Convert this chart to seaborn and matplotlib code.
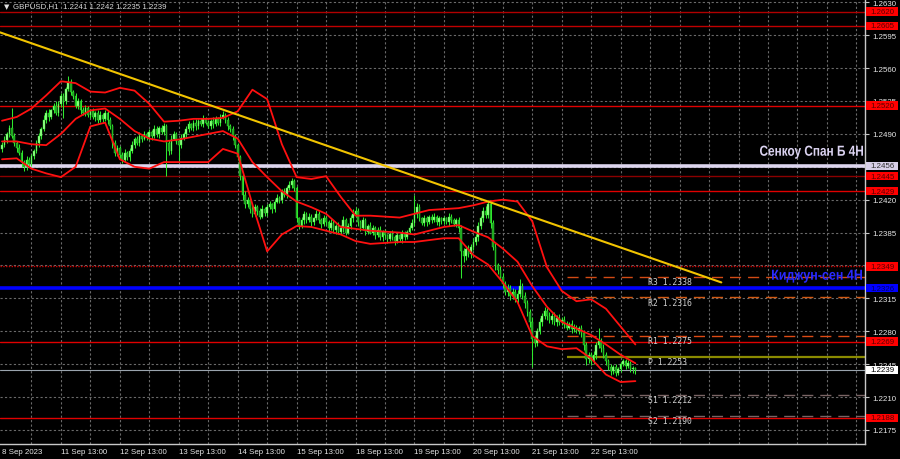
import matplotlib
matplotlib.use('Agg')
import matplotlib.pyplot as plt
import seaborn as sns
import numpy as np
import pandas as pd
from matplotlib.textpath import TextPath
from matplotlib.patches import PathPatch, Rectangle
from matplotlib.font_manager import FontProperties
from matplotlib.transforms import Affine2D

# ---------------- data ----------------
closes = [
    1.2478,1.2484,1.2490,1.2496,1.2488,1.2480,1.2475,1.2470,1.2460,1.2455,1.2462,1.2458,
    1.2466,1.2472,1.2480,1.2488,1.2495,1.2505,1.2512,1.2508,1.2515,1.2520,1.2512,1.2522,
    1.2530,1.2525,1.2538,1.2545,1.2535,1.2530,1.2520,1.2525,1.2515,1.2512,1.2518,1.2510,
    1.2514,1.2508,1.2512,1.2505,1.2510,1.2506,1.2512,1.2505,1.2498,1.2480,1.2470,1.2475,
    1.2468,1.2462,1.2470,1.2465,1.2472,1.2478,1.2485,1.2480,1.2488,1.2485,1.2490,1.2487,
    1.2492,1.2488,1.2495,1.2490,1.2496,1.2492,1.2498,1.2480,1.2472,1.2485,1.2490,1.2482,
    1.2478,1.2486,1.2490,1.2495,1.2500,1.2496,1.2502,1.2498,1.2504,1.2500,1.2506,1.2502,
    1.2498,1.2504,1.2500,1.2506,1.2502,1.2508,1.2510,1.2505,1.2498,1.2495,1.2488,1.2478,
    1.2465,1.2445,1.2425,1.2415,1.2420,1.2410,1.2405,1.2412,1.2408,1.2402,1.2410,1.2406,
    1.2412,1.2415,1.2410,1.2418,1.2422,1.2420,1.2428,1.2425,1.2432,1.2436,1.2440,1.2432,
    1.2400,1.2392,1.2398,1.2405,1.2398,1.2402,1.2396,1.2400,1.2405,1.2398,1.2394,1.2400,
    1.2396,1.2390,1.2395,1.2388,1.2392,1.2386,1.2390,1.2398,1.2385,1.2392,1.2400,1.2405,
    1.2408,1.2396,1.2390,1.2398,1.2386,1.2392,1.2385,1.2390,1.2382,1.2388,1.2380,1.2386,
    1.2382,1.2378,1.2384,1.2380,1.2376,1.2382,1.2378,1.2384,1.2380,1.2386,1.2390,1.2395,
    1.2405,1.2412,1.2400,1.2395,1.2400,1.2396,1.2402,1.2398,1.2402,1.2396,1.2400,1.2397,
    1.2400,1.2396,1.2402,1.2398,1.2394,1.2398,1.2390,1.2365,1.2360,1.2368,1.2362,1.2370,
    1.2375,1.2380,1.2392,1.2400,1.2408,1.2404,1.2415,1.2395,1.2370,1.2350,1.2345,1.2338,
    1.2330,1.2322,1.2326,1.2318,1.2322,1.2314,1.2320,1.2328,1.2318,1.2310,1.2300,1.2290,
    1.2272,1.2268,1.2280,1.2290,1.2296,1.2302,1.2296,1.2292,1.2296,1.2290,1.2294,1.2290,
    1.2292,1.2288,1.2284,1.2288,1.2282,1.2285,1.2280,1.2283,1.2278,1.2265,1.2250,1.2255,
    1.2248,1.2255,1.2265,1.2270,1.2262,1.2255,1.2248,1.2242,1.2238,1.2242,1.2236,1.2240,
    1.2245,1.2248,1.2243,1.2246,1.2240,1.2241,1.2239,
]
first_open = 1.2474

wick_up = [
    3,4,2,3,22,3,2,4,3,2,4,3,
    3,2,4,3,2,5,3,4,2,3,5,3,
    4,3,2,7,3,2,4,3,2,4,3,2,
    3,4,2,3,4,2,3,2,3,2,4,3,
    2,3,4,2,3,4,2,3,4,2,3,2,
    3,2,4,3,2,3,4,2,3,4,3,2,
    3,4,2,3,4,2,3,4,2,3,4,2,
    3,2,4,3,2,3,4,2,3,2,3,2,
    2,3,2,4,3,2,4,3,2,3,4,2,
    3,4,2,3,4,2,3,4,3,4,3,2,
    3,2,4,3,2,4,3,2,4,3,2,4,
    3,2,4,3,2,4,3,5,2,3,4,5,
    4,3,2,4,3,2,4,3,2,3,4,2,
    3,2,3,4,2,3,2,4,3,2,3,4,
    20,4,3,2,4,3,2,3,4,2,3,2,
    3,2,4,3,2,3,4,3,4,3,4,3,
    4,3,4,3,4,5,5,4,3,4,3,4,
    4,3,4,3,4,3,4,8,3,4,3,4,
    5,4,3,4,3,4,3,4,3,4,3,4,
    3,4,3,2,4,3,2,3,4,3,4,3,
    3,4,4,13,3,4,3,2,3,2,3,2,
    2,3,2,3,2,2,1,
]
wick_dn = [
    3,2,4,3,2,3,4,2,5,4,3,2,
    2,3,2,4,3,2,3,4,2,3,2,3,
    3,18,3,2,4,3,2,3,4,2,3,2,
    3,2,4,3,2,3,2,4,3,5,4,3,
    4,3,2,3,4,2,3,2,3,4,2,3,
    3,4,2,3,4,2,3,35,4,3,2,3,
    18,3,2,4,3,2,3,4,3,2,3,2,
    2,3,4,2,3,4,2,3,4,3,4,3,
    3,4,5,4,3,4,3,2,4,3,2,3,
    3,2,4,3,2,3,4,2,3,2,4,3,
    4,3,2,4,3,2,4,3,2,3,4,2,
    3,4,2,3,4,2,3,4,3,2,3,4,
    3,4,3,2,4,3,2,3,4,2,3,4,
    3,4,2,3,4,2,3,4,3,2,3,2,
    3,4,3,2,3,4,2,3,2,3,4,3,
    3,2,4,3,2,3,4,28,6,4,3,4,
    4,3,4,3,4,3,4,5,4,5,4,3,
    4,3,4,5,4,3,4,3,4,5,4,5,
    30,5,4,3,4,3,4,3,4,3,4,3,
    3,4,3,2,4,3,2,3,4,5,6,4,
    4,3,4,3,4,3,4,3,4,3,4,3,
    3,2,3,2,3,4,4,
]

band_bars = [0, 6, 12, 18, 24, 30, 36, 42, 48, 54, 60, 66, 72, 78, 84, 90, 96, 102,
             108, 114, 120, 126, 132, 138, 144, 150, 156, 162, 168, 174, 180, 186,
             192, 198, 204, 210, 216, 222, 228, 234, 240, 246, 252, 258]
band_upper = [1.2504,1.2508,1.2517,1.2531,1.2546,1.2544,1.2535,1.2534,1.2539,1.2536,1.2522,
              1.2503,1.2504,1.2506,1.2506,1.2507,1.2514,1.2537,1.2527,1.2479,1.2444,1.2442,
              1.2445,1.2423,1.2403,1.2403,1.2402,1.2401,1.2405,1.2409,1.2410,1.2411,1.2414,
              1.2418,1.2420,1.2418,1.2397,1.2348,1.2323,1.2312,1.2314,1.2304,1.2285,1.2266]
band_middle = [1.2482,1.2482,1.2479,1.2478,1.2490,1.2506,1.2515,1.2517,1.2506,1.2493,1.2485,
               1.2482,1.2484,1.2487,1.2490,1.2493,1.2485,1.2460,1.2444,1.2429,1.2418,1.2412,
               1.2405,1.2391,1.2389,1.2387,1.2386,1.2385,1.2383,1.2387,1.2391,1.2393,1.2386,
               1.2380,1.2368,1.2354,1.2328,1.2306,1.2290,1.2283,1.2276,1.2266,1.2255,1.2246]
band_lower = [1.2463,1.2464,1.2453,1.2448,1.2444,1.2455,1.2498,1.2502,1.2463,1.2455,1.2453,
              1.2460,1.2460,1.2460,1.2460,1.2474,1.2469,1.2415,1.2365,1.2383,1.2392,1.2391,
              1.2387,1.2383,1.2376,1.2373,1.2374,1.2375,1.2375,1.2377,1.2379,1.2379,1.2361,
              1.2351,1.2332,1.2311,1.2275,1.2264,1.2261,1.2262,1.2251,1.2234,1.2226,1.2227]

trend_bars = [-0.8, 293.0]
trend_prices = [1.2598, 1.2332]

red_levels = [1.2620, 1.2605, 1.2520, 1.2445, 1.2429, 1.2349, 1.2269, 1.2188]
senkou_level = 1.2456
kijun_level = 1.2326
last_price = 1.2239

pivot_names = ['R3', 'R2', 'R1', 'P', 'S1', 'S2']
pivot_values = [1.2338, 1.2316, 1.2275, 1.2253, 1.2212, 1.2190]
pivot_start_bar = 230
pivot_label_bar = 263

ytick_prices = [1.2630, 1.2595, 1.2560, 1.2525, 1.2490, 1.2455, 1.2420, 1.2385,
                1.2350, 1.2315, 1.2280, 1.2245, 1.2210, 1.2175]
# 1.2455 and 1.2350 are fully covered by the level boxes in the reference
ytick_labels = ['1.2630', '1.2595', '1.2560', '1.2525', '1.2490', '', '1.2420', '1.2385',
                '', '1.2315', '1.2280', '1.2245', '1.2210', '1.2175']
xtick_bars = [0, 24, 48, 72, 96, 120, 144, 168, 192, 216, 240]
xtick_labels = ['8 Sep 2023', '11 Sep 13:00', '12 Sep 13:00', '13 Sep 13:00',
                '14 Sep 13:00', '15 Sep 13:00', '18 Sep 13:00', '19 Sep 13:00',
                '20 Sep 13:00', '21 Sep 13:00', '22 Sep 13:00']

title_symbol = '\u25BC'
title_text = 'GBPUSD,H1  1.2241 1.2242 1.2235 1.2239'
senkou_text = 'Сенкоу Спан Б 4H'
kijun_text = 'Киджун-сен 4H'

# ---------------- style ----------------
sns.set_theme(style='dark', rc={'axes.facecolor': 'black', 'figure.facecolor': 'black'})
plt.rcParams['font.family'] = ['Liberation Sans', 'DejaVu Sans']
SMALL = 5.7

W, H = 900, 460
PX = 2.455  # pixels per bar
fig = plt.figure(figsize=(9, 4.6), dpi=100)
ax = fig.add_axes([0, 15 / H, 865 / W, 445 / H])
ax.set_facecolor('black')
ax.set_xlim(-2 / PX, 863 / PX)
ax.set_ylim(1.21601, 1.26335)
PPP = 445 / (1.26335 - 1.21601)  # pixels per price unit

# grid
grid_kw = dict(color='#6a6a6a', lw=0.8, ls=(0, (2, 2)), zorder=0.5)
for p in ytick_prices:
    ax.axhline(p, **grid_kw)
for b in range(12, 352, 12):
    ax.axvline(b, **grid_kw)

# horizontal levels
red_colors = ['#b00000', '#c00000', '#e00000', '#8b0000', '#e00000', '#d00000', '#e00000', '#e00000']
for lv, col in zip(red_levels, red_colors):
    ls = (0, (1, 1)) if lv == 1.2349 else '-'
    ax.axhline(lv, color=col, lw=1.0, ls=ls, zorder=1)
ax.axhline(senkou_level, color='#ddd5ee', lw=2.6, zorder=1.2)
ax.axhline(kijun_level, color='#0000ff', lw=2.6, zorder=1.2)
ax.axhline(last_price, color='#9aa4ae', lw=0.8, zorder=1.1)

# pivots
piv_colors = ['#d24a14', '#d25a14', '#dc4a14', '#8a8a00', '#7a6464', '#7a6464']
for name, v, col in zip(pivot_names, pivot_values, piv_colors):
    ls = '-' if name == 'P' else (0, (8, 5))
    lw = 1.6 if name == 'P' else 1.0
    ax.hlines(v, pivot_start_bar, 400, color=col, lw=lw, ls=ls, zorder=1.3)
    ax.annotate(f'{name} {v:.4f}', xy=(pivot_label_bar, v), xytext=(0, -3.4),
                textcoords='offset points', ha='left', va='center',
                fontsize=5.9, color='#d0d0d0', family='DejaVu Sans Mono', zorder=6)

# candles
c = np.array(closes)
o = np.array([first_open] + closes[:-1])
idx = np.arange(len(c))
top = np.maximum(o, c)
bot = np.minimum(o, c)
hi = top + np.array(wick_up) * 1e-4
lo = bot - np.array(wick_dn) * 1e-4
ax.vlines(idx, lo, hi, color='#2ee82e', lw=0.75, zorder=3)
body = np.maximum(top - bot, 0.00007)
bull = c >= o
ax.bar(idx[bull], body[bull], bottom=bot[bull], width=0.68, color='#9dff8f',
       edgecolor='#30f030', linewidth=0.3, zorder=4)
ax.bar(idx[~bull], body[~bull], bottom=bot[~bull], width=0.68, color='#1e9a1e',
       edgecolor='#2ee82e', linewidth=0.3, zorder=4)

# bollinger-type bands
bands = pd.DataFrame({'bar': band_bars, 'upper': band_upper,
                      'middle': band_middle, 'lower': band_lower})
for col in ['upper', 'middle', 'lower']:
    sns.lineplot(data=bands, x='bar', y=col, ax=ax, color='#ff1010', lw=1.3,
                 zorder=5, legend=False)

# trend line
sns.lineplot(x=trend_bars, y=trend_prices, ax=ax, color='#f2c400', lw=1.5, zorder=5)

ax.set_xlabel('')
ax.set_ylabel('')

# axes / ticks
for s in ['left', 'top']:
    ax.spines[s].set_visible(False)
for s in ['right', 'bottom']:
    ax.spines[s].set_color('#c8c8c8')
    ax.spines[s].set_linewidth(1.0)
ax.yaxis.tick_right()
ax.set_yticks(ytick_prices)
ax.set_yticklabels(ytick_labels)
ax.set_xticks(xtick_bars)
ax.set_xticklabels(xtick_labels, ha='left')
ax.set_xticks(list(range(12, 252, 24)), minor=True)
ax.tick_params(axis='both', which='both', colors='#c8c8c8', labelcolor='#e6e6e6',
               labelsize=SMALL, length=3, width=0.8)
ax.tick_params(axis='x', which='both', direction='inout', pad=1.5)
ax.tick_params(axis='y', pad=2)
ax.grid(False)

# right-side price boxes
ytr = ax.get_yaxis_transform()
box_h = 8.5 / PPP
def price_box(p, fc, tc):
    ax.add_patch(Rectangle((866 / 865, p - box_h / 2), 32 / 865, box_h, transform=ytr,
                           fc=fc, ec='none', clip_on=False, zorder=9))
    ax.text(870 / 865, p, f'{p:.4f}', transform=ytr, ha='left', va='center',
            fontsize=SMALL, color=tc, clip_on=False, zorder=10)
for lv in red_levels:
    price_box(lv, '#ff0000', '#5a0000')
price_box(senkou_level, '#d8d0e8', '#303030')
price_box(kijun_level, '#0000ff', '#000060')
price_box(last_price, '#ffffff', '#000000')

# condensed bold labels for the indicator lines
def condensed_text(s, x_left, x_right, y_center, em, color):
    fp = FontProperties(family='Liberation Sans', weight='bold')
    tp = TextPath((0, 0), s, size=1, prop=fp)
    ext = tp.get_extents()
    sx = (x_right - x_left) / ext.width
    base = H - (y_center + 0.36 * em)
    tr = (Affine2D().translate(-ext.x0, 0).scale(sx, em).translate(x_left, base)
          .scale(1 / W, 1 / H) + fig.transFigure)
    fig.add_artist(PathPatch(tp, transform=tr, fc=color, ec='none', zorder=20))

condensed_text(senkou_text, 760, 863, 151.5, 14.5, '#dcd4f2')
condensed_text(kijun_text, 772, 862, 275.5, 14.5, '#2a2aff')

fig.text(4 / W, 1 - 7 / H, title_symbol, color='#e0e0e0', fontsize=5, va='center', ha='left',
         family='DejaVu Sans')
fig.text(13 / W, 1 - 7 / H, title_text, color='#d8d8d8', fontsize=SMALL, va='center', ha='left')

fig.savefig('out.png', dpi=100, facecolor='black')
